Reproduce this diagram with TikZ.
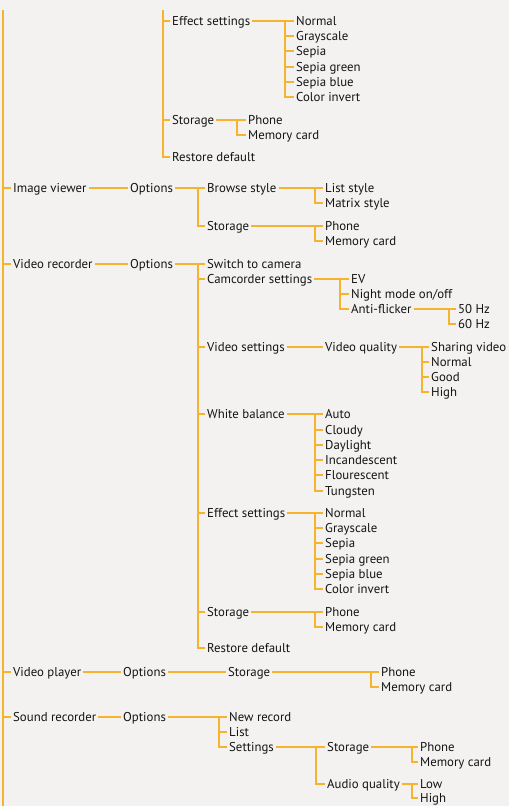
\documentclass[tikz,border=0pt]{standalone}
\usepackage{fontspec}
\setmainfont{PT Sans}
\usepackage{tikz}
\usepackage{xcolor}
\definecolor{paper}{HTML}{F3F2F1}
\definecolor{menuline}{HTML}{F6B32E}
\definecolor{menutext}{HTML}{141414}
\tikzstyle{item} = [anchor=west, inner xsep=2pt, inner ysep=0pt, text height=11.5pt, text depth=2.5pt, text=menutext, font=\fontsize{12.8}{14}\selectfont]
\tikzstyle{link} = [draw=menuline, line width=1.1pt]

\begin{document}
\begin{tikzpicture}[x=1pt, y=-1pt]
\fill[paper] (0,0) rectangle (509,806);
\useasboundingbox (0,0) rectangle (509,806);

% part carried over from the camera menu
\node[item] (fx) at (170,21) {Effect settings};
\node[item] (fxa) at (294,21) {Normal};
\node[item] (fxb) at (294,36) {Grayscale};
\node[item] (fxc) at (294,51) {Sepia};
\node[item] (fxd) at (294,67) {Sepia green};
\node[item] (fxe) at (294,82) {Sepia blue};
\node[item] (fxf) at (294,97) {Color invert};
\node[item] (st) at (170,120) {Storage};
\node[item] (stp) at (246,120) {Phone};
\node[item] (stm) at (246,135) {Memory card};
\node[item] (rd) at (170,157) {Restore default};

% image viewer
\node[item] (iv) at (11,188) {Image viewer};
\node[item] (ivo) at (128,188) {Options};
\node[item] (ivb) at (205,188) {Browse style};
\node[item] (ivbl) at (323,188) {List style};
\node[item] (ivbm) at (323,203) {Matrix style};
\node[item] (ivs) at (205,226) {Storage};
\node[item] (ivsp) at (323,226) {Phone};
\node[item] (ivsm) at (323,241) {Memory card};

% video recorder
\node[item] (vr) at (11,264) {Video recorder};
\node[item] (vro) at (128,264) {Options};
\node[item] (vra) at (205,264) {Switch to camera};
\node[item] (vrc) at (205,279) {Camcorder settings};
\node[item] (ev) at (349,279) {EV};
\node[item] (nm) at (349,294) {Night mode on/off};
\node[item] (af) at (349,309) {Anti-flicker};
\node[item] (hza) at (456,309) {50 Hz};
\node[item] (hzb) at (456,324) {60 Hz};
\node[item] (vrv) at (205,347) {Video settings};
\node[item] (vq) at (323,347) {Video quality};
\node[item] (vqa) at (429,347) {Sharing video};
\node[item] (vqb) at (429,362) {Normal};
\node[item] (vqc) at (429,377) {Good};
\node[item] (vqd) at (429,392) {High};
\node[item] (vrw) at (205,414) {White balance};
\node[item] (wba) at (323,414) {Auto};
\node[item] (wbb) at (323,430) {Cloudy};
\node[item] (wbc) at (323,445) {Daylight};
\node[item] (wbd) at (323,460) {Incandescent};
\node[item] (wbe) at (323,475) {Flourescent};
\node[item] (wbf) at (323,491) {Tungsten};
\node[item] (vrf) at (205,513) {Effect settings};
\node[item] (efa) at (323,513) {Normal};
\node[item] (efb) at (323,528) {Grayscale};
\node[item] (efc) at (323,543) {Sepia};
\node[item] (efd) at (323,559) {Sepia green};
\node[item] (efe) at (323,574) {Sepia blue};
\node[item] (eff) at (323,589) {Color invert};
\node[item] (vrs) at (205,612) {Storage};
\node[item] (vrsp) at (323,612) {Phone};
\node[item] (vrsm) at (323,627) {Memory card};
\node[item] (vrr) at (205,648) {Restore default};

% video player
\node[item] (vp) at (11,672) {Video player};
\node[item] (vpo) at (121,672) {Options};
\node[item] (vps) at (226,672) {Storage};
\node[item] (vpsp) at (379,672) {Phone};
\node[item] (vpsm) at (379,687) {Memory card};

% sound recorder
\node[item] (sr) at (11,717) {Sound recorder};
\node[item] (sro) at (121,717) {Options};
\node[item] (srn) at (227,717) {New record};
\node[item] (srl) at (227,732) {List};
\node[item] (srs) at (227,747) {Settings};
\node[item] (srt) at (325,747) {Storage};
\node[item] (srtp) at (418,747) {Phone};
\node[item] (srtm) at (418,762) {Memory card};
\node[item] (sra) at (325,784) {Audio quality};
\node[item] (sral) at (418,784) {Low};
\node[item] (srah) at (418,798) {High};

% bus points
\coordinate (mtop) at (3,10);
\coordinate (mbot) at (3,806);
\coordinate (ctop) at (163,10);
\coordinate (fxbus) at (285,21);
\coordinate (stbus) at (237,120);
\coordinate (ivbus) at (198,188);
\coordinate (ivbbus) at (315,188);
\coordinate (ivsbus) at (315,226);
\coordinate (vrbus) at (198,264);
\coordinate (vrcbus) at (340,279);
\coordinate (afbus) at (449,309);
\coordinate (vqbus) at (422,347);
\coordinate (vrwbus) at (315,414);
\coordinate (vrfbus) at (315,513);
\coordinate (vrsbus) at (315,612);
\coordinate (vpsbus) at (371,672);
\coordinate (srbus) at (219,717);
\coordinate (srsbus) at (316,747);
\coordinate (srtbus) at (412,747);
\coordinate (srabus) at (412,784);

\draw[link] (mtop) -- (mbot);
\foreach \k in {iv,vr,vp,sr}
  \draw[link] (mtop) |- (\k.west);
\foreach \k in {fx,st,rd}
  \draw[link] (ctop) |- (\k.west);

\foreach \a/\c in {iv/ivo, vr/vro, vrv/vq, vp/vpo, vpo/vps, sr/sro}
  \draw[link] (\a.east) -- (\c.west);

\foreach \p/\b in {fx/fxbus, st/stbus, ivo/ivbus, ivb/ivbbus, ivs/ivsbus, vro/vrbus,
    vrc/vrcbus, af/afbus, vq/vqbus, vrw/vrwbus, vrf/vrfbus, vrs/vrsbus, vps/vpsbus,
    sro/srbus, srs/srsbus, srt/srtbus, sra/srabus}
  \draw[link] (\p.east) -- (\b);

\foreach \b/\k in {fxbus/fxa, fxbus/fxb, fxbus/fxc, fxbus/fxd, fxbus/fxe, fxbus/fxf,
    stbus/stp, stbus/stm, ivbus/ivb, ivbus/ivs, ivbbus/ivbl, ivbbus/ivbm,
    ivsbus/ivsp, ivsbus/ivsm, vrbus/vra, vrbus/vrc, vrbus/vrv, vrbus/vrw,
    vrbus/vrf, vrbus/vrs, vrbus/vrr, vrcbus/ev, vrcbus/nm, vrcbus/af,
    afbus/hza, afbus/hzb, vqbus/vqa, vqbus/vqb, vqbus/vqc, vqbus/vqd,
    vrwbus/wba, vrwbus/wbb, vrwbus/wbc, vrwbus/wbd, vrwbus/wbe, vrwbus/wbf,
    vrfbus/efa, vrfbus/efb, vrfbus/efc, vrfbus/efd, vrfbus/efe, vrfbus/eff,
    vrsbus/vrsp, vrsbus/vrsm, vpsbus/vpsp, vpsbus/vpsm, srbus/srn, srbus/srl,
    srbus/srs, srsbus/srt, srsbus/sra, srtbus/srtp, srtbus/srtm,
    srabus/sral, srabus/srah}
  \draw[link] (\b) |- (\k.west);
\end{tikzpicture}
\end{document}
